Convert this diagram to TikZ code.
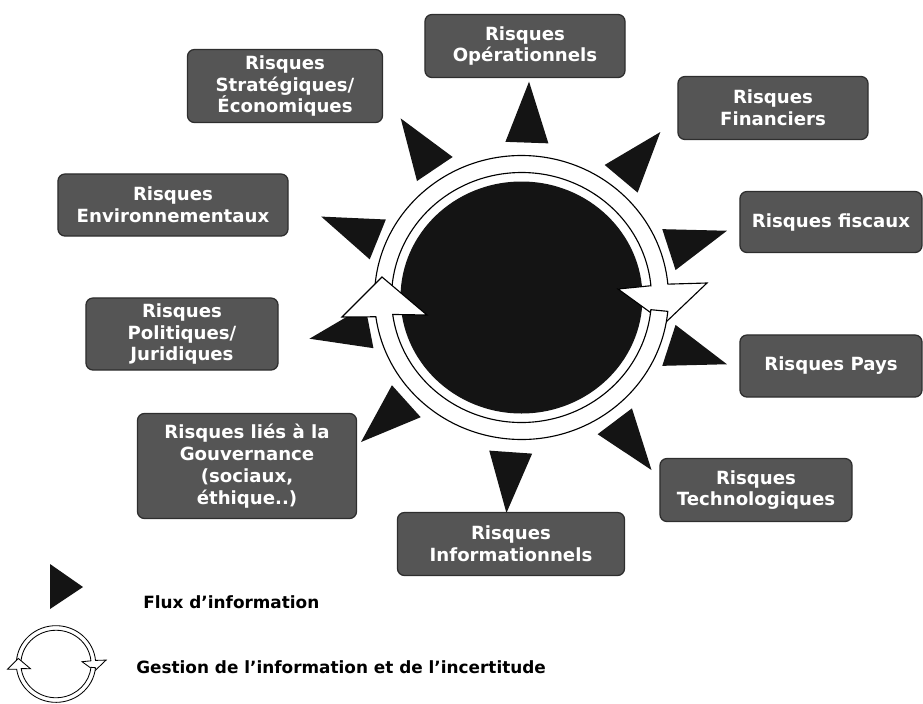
\documentclass[tikz,border=0pt]{standalone}
\usepackage{fontspec}
\setmainfont{DejaVu Sans}
\usepackage{tikz}
\definecolor{RisqueGris}{HTML}{555555}
\definecolor{RisqueBord}{HTML}{2E2E2E}

% ring of two curved arrows, drawn round (0,0)
\newcommand{\gestionring}{%
  % upper arc, head pointing down on the right
  \filldraw[ring] (178:147 and 142) arc[start angle=178, end angle=5.4, x radius=147, y radius=142]
    -- (185.5,14.5) -- (143.5,-25.5) -- (96.5,8.5)
    -- (5.4:130 and 125) arc[start angle=5.4, end angle=178, x radius=130, y radius=125] -- cycle;
  % lower arc, head pointing up on the left
  \filldraw[ring] (-5.6:147 and 142) arc[start angle=-5.6, end angle=-172.2, x radius=147, y radius=142]
    -- (-179.5,-19.5) -- (-139.5,20.5) -- (-94.5,-17.5)
    -- (-172.2:130 and 125) arc[start angle=-172.2, end angle=-5.6, x radius=130, y radius=125] -- cycle;
}

\begin{document}
\begin{tikzpicture}[x=0.025cm, y=0.025cm,
        box/.style={draw=RisqueBord, line width=0.9pt, fill=RisqueGris, rounded corners=5pt, text=white, align=center,
            minimum height=1.575cm, inner sep=2pt, font=\fontsize{12.9}{15.5}\selectfont\bfseries},
        flux/.style={fill=black!92},
        ring/.style={fill=white, draw=black, line width=0.8pt},
        legend/.style={anchor=west, inner sep=0pt, font=\fontsize{12}{14}\selectfont\bfseries}
    ]
    \useasboundingbox (0,0) rectangle (923,-704);
    \coordinate (core) at (521.5,-297.5);

    % Centre
    \fill[black!92] (core) ellipse [x radius=121, y radius=116];

    % Information flows
    \foreach \a in {18,50,88,124,158,191,222,266,307,342}
        \fill[flux, shift={(core)}, rotate=\a] (155,-21.5) -- (216,0) -- (155,21.5) -- cycle;

    % Information management cycle
    \begin{scope}[shift={(core)}]
        \gestionring
    \end{scope}

    % Risk boxes
    \node[box, minimum width=5cm] (operat) at (525,-46) {Risques\\Opérationnels};
    \node[box, minimum width=4.75cm] (financ) at (773,-108) {Risques\\Financiers};
    \node[box, minimum width=4.55cm, minimum height=1.525cm] (fiscal) at (831,-222) {Risques fiscaux};
    \node[box, minimum width=4.55cm, minimum height=1.55cm] (pays) at (831,-366) {Risques Pays};
    \node[box, minimum width=4.8cm] (techno) at (756,-490) {Risques\\Technologiques};
    \node[box, minimum width=5.675cm] (inform) at (511,-544) {Risques\\Informationnels};
    \node[box, minimum width=5.475cm, minimum height=2.625cm] (gouver) at (247,-466) {Risques liés à la\\Gouvernance\\(sociaux,\\éthique..)};
    \node[box, minimum width=4.8cm, minimum height=1.8cm] (politi) at (182,-334) {Risques\\Politiques/\\Juridiques};
    \node[box, minimum width=5.75cm, minimum height=1.55cm] (enviro) at (173,-205) {Risques\\Environnementaux};
    \node[box, minimum width=4.875cm, minimum height=1.825cm] (strate) at (285,-86) {Risques\\Stratégiques/\\Économiques};

    % Legend
    \fill[flux] (50,-564) -- (83,-587) -- (50,-609) -- cycle;
    \node[legend] (fluxlab) at (143,-602) {Flux d’information};
    \begin{scope}[shift={(56,-664)}, scale=0.27, ring/.append style={line width=0.6pt}]
        \gestionring
    \end{scope}
    \node[legend] (gestlab) at (136,-667) {Gestion de l’information et de l’incertitude};
\end{tikzpicture}
\end{document}
